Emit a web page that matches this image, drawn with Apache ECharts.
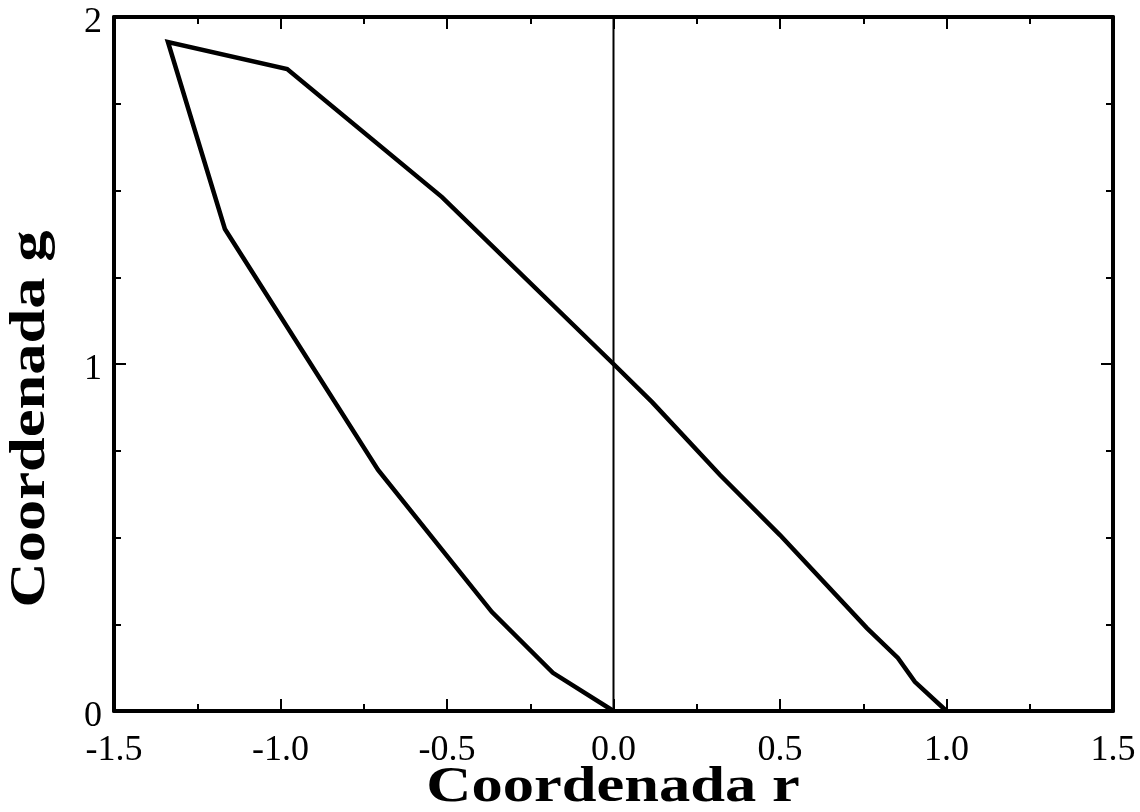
<!DOCTYPE html>
<html>
<head>
<meta charset="utf-8">
<script src="https://cdn.jsdelivr.net/npm/echarts@6/dist/echarts.min.js"></script>
<style>
  html, body { margin: 0; padding: 0; background: #fff; }
  #chart { width: 1140px; height: 812px; }
</style>
</head>
<body>
<div id="chart"></div>
<script>
// outer boundary of the locus, from r=1 up to the top corner
const outerR = [1.0, 0.905, 0.854, 0.761, 0.5, 0.32, 0.116, 0.0, -0.515, -0.98, -1.338];
const outerG = [0.0, 0.084, 0.153, 0.239, 0.507, 0.68, 0.89, 1.0, 1.481, 1.85, 1.928];
// inner boundary, from the top corner back down to the origin
const innerR = [-1.167, -0.707, -0.365, -0.182, 0.0];
const innerG = [1.389, 0.695, 0.285, 0.11, 0.0];
// vertical line r = 0
const zeroR = [0, 0];
const zeroG = [0, 2];

const xTicks = ["-1.5", "-1.0", "-0.5", "0.0", "0.5", "1.0", "1.5"];
const yTicks = ["0", "1", "2"];

const locus = outerR.map((r, i) => [r, outerG[i]])
  .concat(innerR.map((r, i) => [r, innerG[i]]));
const zeroLine = zeroR.map((r, i) => [r, zeroG[i]]);

const serif = "'Liberation Serif', 'DejaVu Serif', serif";
const axisLine = { show: true, onZero: false, lineStyle: { color: "#000", width: 4 } };
const majorTick = { inside: true, length: 12, lineStyle: { color: "#000", width: 2 } };

let chart = echarts.init(document.getElementById("chart"));
chart.setOption({
  animation: false,
  grid: { left: 114, right: 27, top: 17, bottom: 101 },
  xAxis: [
    {
      type: "value",
      min: -1.5,
      max: 1.5,
      interval: 0.5,
      axisLine: axisLine,
      axisTick: majorTick,
      minorTick: { show: true, splitNumber: 2, length: 7, lineStyle: { color: "#000", width: 2 } },
      splitLine: { show: false },
      axisLabel: {
        margin: 22,
        color: "#000",
        fontFamily: serif,
        fontSize: 36,
        formatter: (v) => xTicks[Math.round((v + 1.5) / 0.5)]
      }
    },
    {
      type: "value",
      position: "top",
      min: -1.5,
      max: 1.5,
      interval: 0.5,
      axisLine: axisLine,
      axisTick: majorTick,
      minorTick: { show: true, splitNumber: 2, length: 7, lineStyle: { color: "#000", width: 2 } },
      splitLine: { show: false },
      axisLabel: { show: false }
    }
  ],
  yAxis: [
    {
      type: "value",
      min: 0,
      max: 2,
      interval: 1,
      axisLine: axisLine,
      axisTick: majorTick,
      minorTick: { show: true, splitNumber: 4, length: 7, lineStyle: { color: "#000", width: 2 } },
      splitLine: { show: false },
      axisLabel: {
        margin: 12,
        color: "#000",
        fontFamily: serif,
        fontSize: 36,
        verticalAlign: "top",
        lineHeight: 12,
        formatter: (v) => yTicks[Math.round(v)]
      }
    },
    {
      type: "value",
      position: "right",
      min: 0,
      max: 2,
      interval: 1,
      axisLine: axisLine,
      axisTick: majorTick,
      minorTick: { show: true, splitNumber: 4, length: 7, lineStyle: { color: "#000", width: 2 } },
      splitLine: { show: false },
      axisLabel: { show: false }
    }
  ],
  graphic: [
    {
      type: "text",
      x: 613,
      y: 788,
      scaleX: 1.25,
      style: {
        text: "Coordenada r",
        font: "bold 50px " + serif,
        fill: "#000",
        textAlign: "center",
        textVerticalAlign: "middle"
      }
    },
    {
      type: "text",
      x: 31,
      y: 419,
      rotation: Math.PI / 2,
      scaleX: 1.25,
      style: {
        text: "Coordenada g",
        font: "bold 50px " + serif,
        fill: "#000",
        textAlign: "center",
        textVerticalAlign: "middle"
      }
    }
  ],
  series: [
    {
      type: "line",
      data: zeroLine,
      symbol: "none",
      lineStyle: { color: "#000", width: 2 }
    },
    {
      type: "line",
      data: locus,
      symbol: "none",
      lineStyle: { color: "#000", width: 4.5, join: "miter" }
    }
  ]
});
</script>
</body>
</html>
